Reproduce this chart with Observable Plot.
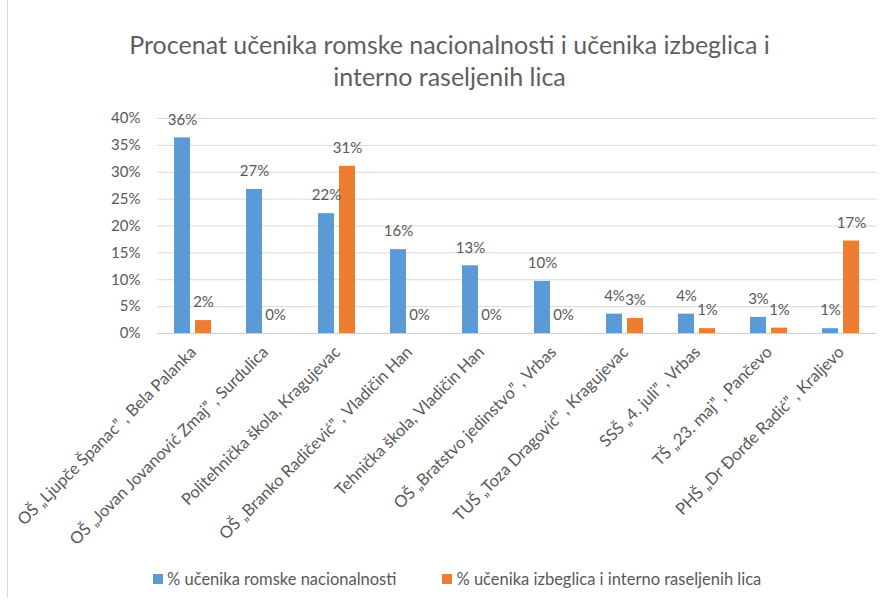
<!DOCTYPE html>
<html>
<head>
<meta charset="utf-8">
<script src="https://cdn.jsdelivr.net/npm/d3@7"></script>
<script src="https://cdn.jsdelivr.net/npm/@observablehq/plot@0.6"></script>
<style>
  html, body { margin: 0; padding: 0; background: #fff; }
  #wrap { position: relative; width: 891px; height: 603px; overflow: hidden; background: #fff; font-family: Lato, sans-serif; color: #595959; }
  #border { position: absolute; left: 7px; top: 0; width: 1px; height: 598px; background: #d9d9d9; }
  #title { position: absolute; left: 8px; width: 883px; top: 28px; text-align: center; font-size: 25px; line-height: 32px; color: #5f5f5f; }
  #chart { position: absolute; left: 0; top: 100px; }
  #legend { position: absolute; left: 153px; top: 569px; display: flex; align-items: center; font-size: 16.5px; color: #595959; white-space: nowrap; }
  .item { display: flex; align-items: center; }
  .sw { width: 10px; height: 10px; margin-right: 4px; }
</style>
</head>
<body>
<div id="wrap">
  <div id="border"></div>
  <div id="title">Procenat učenika romske nacionalnosti i učenika izbeglica i<br>interno raseljenih lica</div>
  <div id="chart"></div>
  <div id="legend"></div>
</div>
<script>
const schools = [
  "OŠ „Ljupče Španac” , Bela Palanka",
  "OŠ „Jovan Jovanović Zmaj” , Surdulica",
  "Politehnička škola, Kragujevac",
  "OŠ „Branko Radičević” , Vladičin Han",
  "Tehnička škola, Vladičin Han",
  "OŠ „Bratstvo jedinstvo” , Vrbas",
  "TUŠ „Toza Dragović” , Kragujevac",
  "SSŠ „4. juli” , Vrbas",
  "TŠ „23. maj” , Pančevo",
  "PHŠ „Dr Đorđe Radić” , Kraljevo"
];
const seriesNames = ["% učenika romske nacionalnosti", "% učenika izbeglica i interno raseljenih lica"];
const romaValues = [36.4, 26.8, 22.3, 15.6, 12.6, 9.7, 3.6, 3.6, 3.0, 0.9];
const refugeeValues = [2.4, 0, 31.1, 0, 0, 0, 2.8, 0.9, 1.0, 17.2];
const seriesColors = ["#5b9bd5", "#ed7d31"];
const yTicks = [0, 5, 10, 15, 20, 25, 30, 35, 40];

const data = schools.flatMap((s, i) => [
  {school: s, series: seriesNames[0], value: romaValues[i]},
  {school: s, series: seriesNames[1], value: refugeeValues[i]}
]);

const chart = Plot.plot({
  width: 891,
  height: 460,
  marginTop: 18,
  marginBottom: 227,
  marginLeft: 157,
  marginRight: 14,
  style: {fontFamily: "Lato, sans-serif", fontSize: "15px", color: "#595959", background: "transparent"},
  fx: {domain: schools, padding: 0, label: null},
  x: {domain: seriesNames, paddingInner: 0.238, paddingOuter: 0.833, axis: null},
  y: {domain: [0, 40], label: null},
  color: {domain: seriesNames, range: seriesColors},
  marks: [
    Plot.gridY(yTicks, {stroke: "#d9d9d9", strokeOpacity: 1}),
    Plot.axisY(yTicks, {tickSize: 0, tickPadding: 17, tickFormat: d => d + "%", label: null, fill: "#595959"}),
    Plot.axisFx({anchor: "bottom", tickRotate: -45, tickSize: 0, tickPadding: 16, fontSize: 16.5, label: null, fill: "#595959"}),
    Plot.barY(data, {fx: "school", x: "series", y: "value", fill: "series"}),
    Plot.ruleY([0], {stroke: "#d0d0d0"}),
    Plot.text(data, {fx: "school", x: "series", y: "value", text: d => Math.round(d.value) + "%", dy: -18, fill: "#595959"})
  ]
});
document.getElementById("chart").appendChild(chart);

const legend = document.getElementById("legend");
seriesNames.forEach((name, i) => {
  const item = document.createElement("div");
  item.className = "item";
  if (i > 0) item.style.marginLeft = "46px";
  const sw = document.createElement("div");
  sw.className = "sw";
  sw.style.background = seriesColors[i];
  const t = document.createElement("span");
  t.textContent = name;
  item.appendChild(sw);
  item.appendChild(t);
  legend.appendChild(item);
});
</script>
</body>
</html>
